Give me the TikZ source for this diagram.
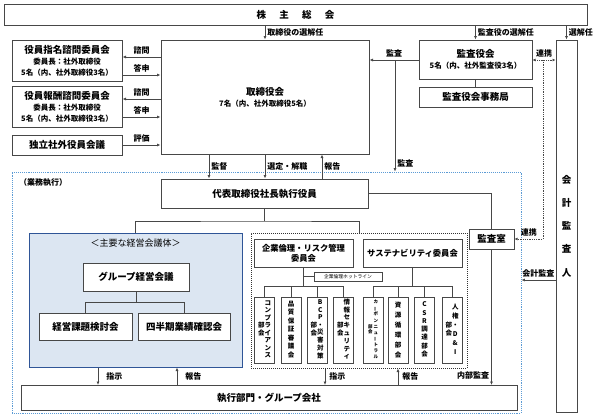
\documentclass[tikz,border=0pt]{standalone}
\usepackage{fontspec}
\setmainfont{Noto Sans CJK JP}
\usetikzlibrary{arrows.meta}

\colorlet{lineC}{black!72}
\definecolor{bizBlue}{HTML}{5B9BD5}
\definecolor{meetFill}{HTML}{DCE6F2}
\definecolor{meetLine}{HTML}{2F5597}

\tikzset{
  orgbox/.style={draw=lineC, line width=1pt, fill=white, inner sep=1pt, align=center,
    font=\fontsize{9.5}{11}\selectfont\bfseries},
  subbox/.style={draw=lineC, line width=0.8pt, fill=white, minimum width=20, minimum height=66,
    inner sep=0pt, font=\bfseries},
  link/.style={draw=lineC, line width=0.8pt},
  arr/.style={link, -{Latex[length=3.5pt,width=3pt]}},
  lbl/.style={font=\fontsize{8}{9}\selectfont\bfseries, inner sep=2pt},
}
\newcommand\subtxt[1]{{\fontsize{7.5}{9}\selectfont #1}}
\newcommand\colsize{6.5}
\newcommand\tcol[2][7.3]{$\vcenter{\hbox{\fontsize{\colsize}{#1}\selectfont\begin{tabular}{@{}c@{}}#2\end{tabular}}}$}
\newcommand\tbar{\rotatebox[origin=c]{90}{ー}}

\begin{document}
\begin{tikzpicture}[x=1pt, y=-1pt]
\useasboundingbox (0,0) rectangle (600,418);

% Shareholders meeting
\node[orgbox, minimum width=583, minimum height=21] (soukai) at (295.5,14.5) {株\hspace{1.4em}主\hspace{1.4em}総\hspace{1.4em}会};

% Board and advisory committees
\node[orgbox, minimum width=208, minimum height=114] (board) at (265,97) {取締役会\\\subtxt{7名（内、社外取締役5名）}};
\node[orgbox, minimum width=110, minimum height=41] (nomination) at (67,60.5) {役員指名諮問委員会\\\subtxt{委員長：社外取締役}\\\subtxt{5名（内、社外取締役3名）}};
\node[orgbox, minimum width=110, minimum height=41] (remuneration) at (67,106.5) {役員報酬諮問委員会\\\subtxt{委員長：社外取締役}\\\subtxt{5名（内、社外取締役3名）}};
\node[orgbox, minimum width=110, minimum height=20] (independent) at (67,145) {独立社外役員会議};

% Audit & Supervisory Board
\node[orgbox, minimum width=113, minimum height=39] (auditboard) at (475.5,59.5) {監査役会\\\subtxt{5名（内、社外監査役3名）}};
\node[orgbox, minimum width=113, minimum height=20] (auditoffice) at (475.5,97) {監査役会事務局};
\node[orgbox, minimum width=21, minimum height=372, font=\fontsize{9.5}{23.3}\selectfont\bfseries] (accountant) at (566.5,226) {会\\計\\監\\査\\人};

% Business execution area
\node[draw=bizBlue, densely dotted, line width=0.9pt, minimum width=509, minimum height=241, inner sep=0pt] (business) at (266.5,292.5) {};
\node[lbl, anchor=west] (bizlabel) at (17,183) {（業務執行）};

\node[orgbox, minimum width=207, minimum height=29] (president) at (264.5,193.5) {代表取締役社長執行役員};
\node[orgbox, minimum width=45, minimum height=20] (auditroom) at (491.5,239) {監査室};

% Main management meetings
\node[draw=meetLine, fill=meetFill, line width=1pt, minimum width=213, minimum height=134, inner sep=0pt] (meetings) at (135.5,300) {};
\node[font=\fontsize{9}{10}\selectfont] (meetlabel) at (135.5,243) {＜主要な経営会議体＞};
\node[orgbox, minimum width=106, minimum height=28] (groupmeet) at (136,277) {グループ経営会議};
\node[orgbox, minimum width=93, minimum height=27] (issues) at (85.5,326.5) {経営課題検討会};
\node[orgbox, minimum width=92, minimum height=27] (quarterly) at (184,326.5) {四半期業績確認会};

% Committees
\node[draw=black!80, densely dotted, line width=1pt, minimum width=216, minimum height=135, inner sep=0pt] (committees) at (359,300.5) {};
\node[orgbox, minimum width=99, minimum height=28, font=\fontsize{8.3}{10}\selectfont\bfseries] (ethics) at (303.5,253) {企業倫理・リスク管理\\委員会};
\node[orgbox, minimum width=99, minimum height=28, font=\fontsize{8.3}{10}\selectfont\bfseries] (sustain) at (412.5,253) {サステナビリティ委員会};
\node[draw=lineC, line width=0.6pt, fill=white, minimum width=68, minimum height=9, inner sep=0pt, font=\fontsize{4.8}{5}\selectfont] (hotline) at (348,276.5) {企業倫理ホットライン};

\node[subbox] (compliance) at (264.5,330) {\tcol{部\\会}\tcol{コ\\ン\\プ\\ラ\\イ\\ア\\ン\\ス}};
\node[subbox] (quality) at (291,330) {\tcol[8.5]{品\\質\\保\\証\\審\\議\\会}};
\node[subbox] (bcp) at (317,330) {\tcol{部\\会}\tcol[7.4]{B\\C\\P\\・\\災\\害\\対\\策}};
\node[subbox] (infosec) at (343.5,330) {\tcol{部\\会}\tcol[7.8]{情\\報\\セ\\キ\\ュ\\リ\\テ\\ィ}};
\node[subbox] (carbon) at (373,330) {\renewcommand\colsize{4.5}\tcol[5.5]{部\\会}\hspace{1pt}\tcol[6.1]{カ\\\tbar\\ボ\\ン\\ニ\\ュ\\\tbar\\ト\\ラ\\ル}};
\node[subbox] (resources) at (398,330) {\tcol[10]{資\\源\\循\\環\\部\\会}};
\node[subbox] (csr) at (424.5,330) {\tcol[8.3]{C\\S\\R\\調\\達\\部\\会}};
\node[subbox] (humanrights) at (452,330) {\tcol{部\\会}\tcol[9]{人\\権\\・\\D\\\&\\I}};

% Execution divisions
\node[orgbox, minimum width=496, minimum height=25] (execution) at (269,398) {執行部門・グループ会社};

% Shareholders -> appointments
\draw[arr] (soukai.south -| board.north) -- (board.north) node[lbl, midway, right] {取締役の選解任};
\draw[arr] (soukai.south -| auditboard.north) -- (auditboard.north) node[lbl, midway, right] {監査役の選解任};
\draw[arr] (soukai.south -| accountant.north) -- (accountant.north) node[lbl, midway, right] {選解任};

% Advisory committees <-> board
\draw[arr] (board.west |- 0,57) -- (nomination.east |- 0,57) node[lbl, midway, above] {諮問};
\draw[arr] (nomination.east |- 0,75) -- (board.west |- 0,75) node[lbl, midway, above] {答申};
\draw[arr] (board.west |- 0,99) -- (remuneration.east |- 0,99) node[lbl, midway, above] {諮問};
\draw[arr] (remuneration.east |- 0,117) -- (board.west |- 0,117) node[lbl, midway, above] {答申};
\draw[arr] (independent.east) -- (board.west |- independent.east) node[lbl, midway, above] {評価};

% Audit lines
\coordinate (auditsplit) at (395,60);
\coordinate (linksplit) at (543,60);
\draw[link] (auditboard.south) -- (auditoffice.north);
\draw[arr] (auditboard.west |- auditsplit) -- (board.east |- auditsplit) node[lbl, midway, above] {監査};
\draw[arr] (auditsplit) -- (auditsplit |- business.north) node[lbl, pos=0.93, right] {監査};
\draw[link, densely dotted, {Latex[length=3pt,width=3pt]}-{Latex[length=3pt,width=3pt]}] (auditboard.east |- linksplit) -- (accountant.west |- linksplit) node[lbl, midway, above] {連携};
\draw[link, densely dotted, -{Latex[length=3pt,width=3pt]}] (linksplit) |- (auditroom.east) node[lbl, pos=0.75, above] {連携};
\draw[arr] (accountant.west |- 0,280) -- (business.east |- 0,280) node[lbl, midway, above] {会計監査};

% Board <-> president
\draw[arr] (board.south -| 209,0) -- (president.north -| 209,0) node[lbl, midway, right] {監督};
\draw[arr] (board.south) -- (president.north -| board.south) node[lbl, midway, right] {選定・解職};
\draw[arr] (president.north -| 322,0) -- (board.south -| 322,0) node[lbl, midway, right] {報告};

% President tree
\coordinate (presfork) at (president.south |- 0,221);
\draw[link] (president.south) -- (presfork);
\draw[link] (meetings.north) |- (presfork) -| (committees.north);
\draw[link] (president.east) -| (auditroom.north);

% Meetings tree
\draw[link] (groupmeet.south) -- ++(0,11) coordinate (gmfork);
\draw[link] (issues.north) |- (gmfork) -| (quarterly.north);

% Committee trees
\draw[link] (ethics.south) -- (ethics.south |- 0,286) coordinate (ethicsfork);
\draw[link] (hotline.west) -- (ethics.south |- hotline.west);
\draw[link] (compliance.north |- ethicsfork) -- (infosec.north |- ethicsfork);
\foreach \n in {compliance,quality,bcp,infosec}
  \draw[link] (\n.north) -- (\n.north |- ethicsfork);
\draw[link] (sustain.south) -- (sustain.south |- 0,286) coordinate (sustainfork);
\draw[link] (carbon.north |- sustainfork) -- (humanrights.north |- sustainfork);
\foreach \n in {carbon,resources,csr,humanrights}
  \draw[link] (\n.north) -- (\n.north |- sustainfork);

% Instructions and reports
\draw[arr] (meetings.south -| 98,0) -- (execution.north -| 98,0) node[lbl, midway, right, xshift=6pt] {指示};
\draw[arr] (execution.north -| 177,0) -- (meetings.south -| 177,0) node[lbl, midway, right, xshift=6pt] {報告};
\draw[arr] (committees.south -| 325,0) -- (execution.north -| 325,0) node[lbl, midway, right, xshift=2pt] {指示};
\draw[arr] (execution.north -| 398,0) -- (committees.south -| 398,0) node[lbl, midway, right, xshift=2pt] {報告};
\draw[arr] (auditroom.south) -- (auditroom.south |- execution.north) node[lbl, pos=0.93, left] {内部監査};

\end{tikzpicture}
\end{document}
